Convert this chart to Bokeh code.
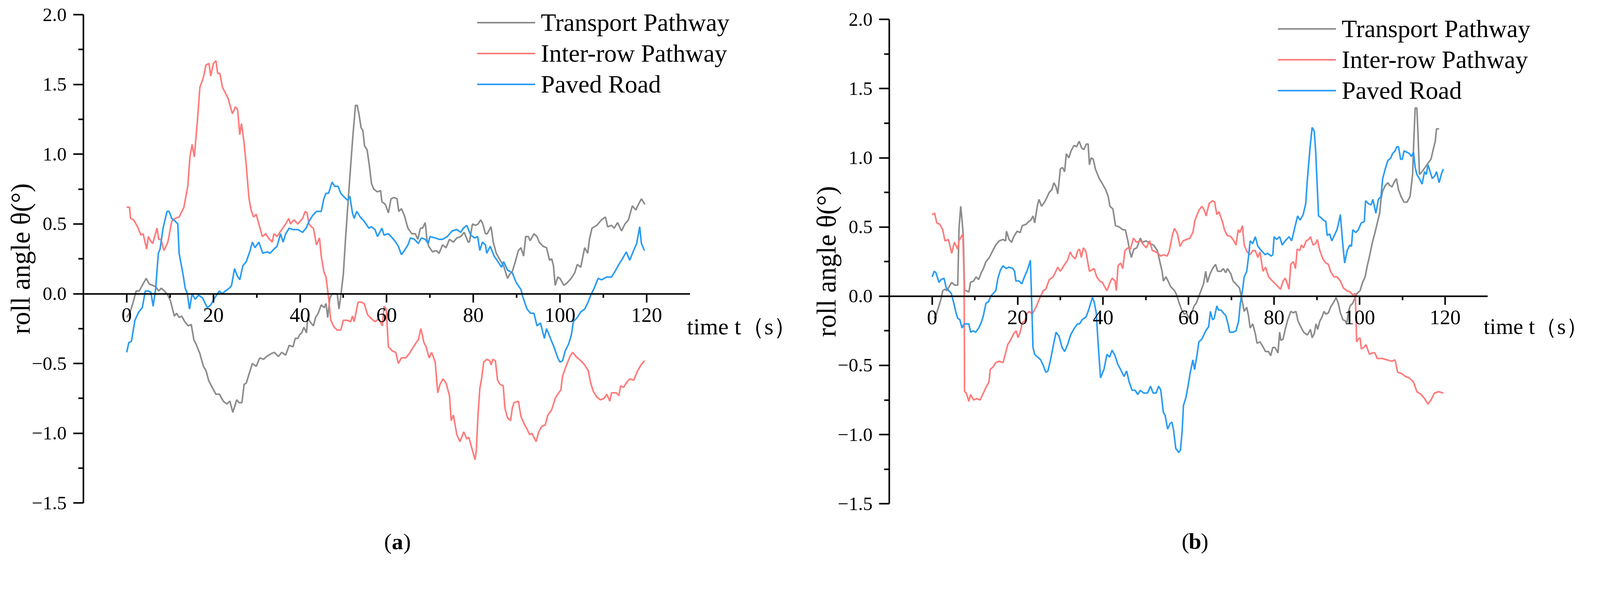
from bokeh.plotting import figure
from bokeh.layouts import row
from bokeh.models import (Range1d, FixedTicker, Legend, LegendItem, Label,
                          CustomJSTickFormatter)
from bokeh.embed import file_html
from bokeh.resources import INLINE

# ---------------- data: panel (a) ----------------
a_tp_t = [0, 0.8, 1.4, 2.2, 2.9, 3.6, 4.5, 5.2, 6.0, 6.7, 7.4, 8.0, 8.7, 9.5, 10.1, 11.0, 11.5, 12.1, 12.7, 13.4,
          14.2, 14.9, 15.5, 16.0, 16.9, 17.7, 18.3, 18.9, 19.7, 20.6, 21.4, 22.3, 23.1, 23.8, 24.5, 25.4, 25.9, 26.6,
          27.1, 27.6, 28.2, 29.0, 29.9, 30.7, 31.6, 32.3, 33.3, 34.1, 35.0, 35.8, 36.7, 37.5, 38.4, 38.9, 39.5, 40.0,
          40.4, 40.9, 41.5, 41.8, 42.3, 43.1, 43.6, 44.2, 44.9, 45.6, 46.0, 46.4, 46.9, 47.4, 48.0, 48.6, 49.0, 49.4,
          50.0, 50.5, 51.1, 51.7, 52.2, 52.8, 53.2, 53.6, 54.1, 54.5, 54.9, 55.5, 56.0, 56.5, 57.0, 57.9, 58.6, 58.9,
          59.7, 60.4, 61.0, 61.7, 62.4, 62.8, 63.4, 64.1, 64.9, 65.8, 66.6, 67.2, 67.8, 68.3, 68.9, 69.3, 69.7, 70.6,
          71.4, 72.1, 72.9, 73.7, 74.5, 75.4, 76.2, 77.1, 77.9, 78.8, 79.1, 79.8, 80.5, 81.1, 81.7, 82.2, 82.8, 83.2,
          84.1, 84.6, 85.3, 86.2, 87.0, 87.9, 88.4, 89.0, 89.6, 90.4, 91.0, 91.6, 92.1, 92.7, 93.1, 94.0, 94.7, 95.2,
          96.1, 96.9, 97.6, 98.1, 98.5, 98.9, 99.5, 100.0, 100.9, 101.7, 102.6, 103.4, 104.0, 104.8, 105.7, 106.4,
          106.8, 107.4, 108.5, 109.6, 110.5, 111.0, 111.9, 112.5, 113.3, 114.2, 115.0, 115.8, 116.7, 117.5, 118.1,
          118.8, 119.6]
a_tp_v = [-0.17, -0.13, -0.07, 0.02, 0.02, 0.06, 0.11, 0.07, 0.06, 0.05, 0.02, 0.04, 0.02, -0.01, -0.05, -0.16, -0.14,
          -0.17, -0.16, -0.20, -0.23, -0.22, -0.33, -0.36, -0.43, -0.52, -0.55, -0.62, -0.67, -0.72, -0.72, -0.77,
          -0.79, -0.77, -0.85, -0.76, -0.78, -0.78, -0.65, -0.64, -0.58, -0.50, -0.52, -0.46, -0.47, -0.45, -0.43,
          -0.42, -0.45, -0.42, -0.44, -0.37, -0.38, -0.32, -0.32, -0.29, -0.28, -0.24, -0.28, -0.17, -0.20, -0.23,
          -0.17, -0.14, -0.08, -0.10, -0.07, -0.17, -0.03, 0.0, 0.0, 0.0, -0.11, -0.02, 0.14, 0.39, 0.66, 0.92, 1.13,
          1.35, 1.35, 1.29, 1.19, 1.17, 1.06, 1.03, 0.92, 0.79, 0.75, 0.73, 0.74, 0.66, 0.64, 0.58, 0.68, 0.69, 0.68,
          0.59, 0.61, 0.56, 0.47, 0.43, 0.43, 0.39, 0.47, 0.47, 0.51, 0.39, 0.34, 0.30, 0.31, 0.29, 0.35, 0.33, 0.39,
          0.37, 0.40, 0.41, 0.44, 0.37, 0.37, 0.50, 0.49, 0.50, 0.53, 0.50, 0.43, 0.43, 0.48, 0.37, 0.29, 0.24, 0.20,
          0.11, 0.14, 0.16, 0.22, 0.31, 0.33, 0.27, 0.41, 0.41, 0.38, 0.43, 0.41, 0.37, 0.34, 0.33, 0.24, 0.25, 0.20,
          0.06, 0.12, 0.11, 0.06, 0.08, 0.11, 0.15, 0.21, 0.19, 0.33, 0.29, 0.39, 0.47, 0.49, 0.53, 0.55, 0.48, 0.49,
          0.47, 0.51, 0.45, 0.50, 0.53, 0.63, 0.60, 0.64, 0.68, 0.64]

a_ir_t = [0, 0.65, 0.9, 1.6, 2.5, 3.3, 3.8, 4.6, 5.0, 5.5, 6.0, 7.0, 7.4, 7.9, 8.6, 9.5, 10.4, 11.2, 12.1, 13.2, 14.1,
          14.6, 15.1, 15.6, 16.3, 16.9, 17.7, 18.3, 19.0, 19.4, 20.0, 20.6, 21.0, 21.5, 22.1, 23.4, 24.4, 25.1, 25.6,
          26.1, 26.5, 27.1, 27.6, 28.2, 28.7, 29.3, 29.9, 30.5, 31.3, 32.1, 32.7, 33.6, 34.0, 34.7, 35.8, 36.7, 37.4,
          37.8, 38.6, 39.5, 40.6, 41.2, 41.6, 42.1, 42.6, 43.1, 43.8, 44.5, 44.9, 45.5, 46.0, 46.6, 47.1, 47.9, 48.6,
          49.4, 50.0, 50.8, 51.7, 52.1, 52.5, 53.4, 54.1, 54.8, 55.6, 56.5, 57.3, 58.2, 59.0, 59.4, 59.9, 60.4, 61.3,
          62.1, 62.7, 63.4, 64.4, 65.2, 65.8, 66.6, 67.3, 67.9, 68.6, 69.1, 69.8, 70.4, 71.2, 71.8, 72.3, 73.0, 73.7,
          74.5, 74.9, 75.4, 76.2, 76.9, 77.8, 78.5, 79.0, 79.6, 80.4, 80.7, 81.1, 81.5, 81.9, 82.4, 83.1, 83.8, 84.1,
          84.5, 85.1, 85.6, 86.2, 86.9, 87.3, 87.9, 88.6, 89.0, 89.4, 90.4, 91.0, 91.7, 92.4, 93.0, 93.5, 94.5, 95.1,
          95.8, 96.6, 97.2, 98.1, 98.9, 99.7, 100.2, 100.6, 101.4, 102.3, 102.9, 103.7, 104.8, 105.7, 106.5, 107.1,
          107.7, 108.5, 109.3, 110.2, 110.8, 111.5, 111.9, 113.0, 113.6, 114.0, 114.7, 115.3, 116.1, 117.0, 117.8,
          118.7, 119.5]
a_ir_v = [0.62, 0.62, 0.54, 0.53, 0.48, 0.42, 0.43, 0.32, 0.41, 0.38, 0.36, 0.47, 0.39, 0.39, 0.31, 0.37, 0.52, 0.54,
          0.55, 0.62, 0.77, 0.98, 1.07, 0.98, 1.23, 1.48, 1.55, 1.64, 1.65, 1.56, 1.65, 1.67, 1.58, 1.58, 1.48, 1.40,
          1.29, 1.34, 1.32, 1.14, 1.22, 1.08, 0.92, 0.69, 0.60, 0.55, 0.57, 0.50, 0.41, 0.43, 0.40, 0.37, 0.43, 0.41,
          0.46, 0.50, 0.54, 0.50, 0.53, 0.50, 0.54, 0.59, 0.58, 0.50, 0.48, 0.47, 0.35, 0.40, 0.27, 0.16, 0.12, -0.03,
          -0.19, -0.24, -0.26, -0.26, -0.19, -0.19, -0.20, -0.16, -0.20, -0.06, -0.06, -0.07, -0.15, -0.18, -0.20,
          -0.18, -0.23, -0.09, -0.11, -0.38, -0.41, -0.42, -0.50, -0.46, -0.46, -0.43, -0.40, -0.36, -0.33, -0.25,
          -0.35, -0.38, -0.46, -0.42, -0.49, -0.71, -0.65, -0.61, -0.64, -0.73, -0.91, -0.87, -1.01, -1.06, -0.99,
          -1.04, -1.03, -1.10, -1.19, -1.12, -0.86, -0.68, -0.61, -0.49, -0.47, -0.48, -0.51, -0.47, -0.48, -0.62,
          -0.65, -0.66, -0.82, -0.89, -0.91, -0.82, -0.78, -0.77, -0.88, -0.93, -0.97, -1.01, -1.00, -1.06, -0.99,
          -0.95, -0.94, -0.87, -0.83, -0.75, -0.71, -0.69, -0.59, -0.52, -0.45, -0.42, -0.45, -0.48, -0.51, -0.55,
          -0.64, -0.70, -0.74, -0.76, -0.75, -0.72, -0.77, -0.71, -0.71, -0.73, -0.66, -0.67, -0.64, -0.61, -0.62,
          -0.56, -0.51, -0.48]

a_pr_t = [0, 0.5, 1.1, 1.9, 2.8, 3.6, 4.3, 5.0, 5.6, 6.1, 6.7, 7.3, 7.7, 8.4, 9.3, 9.8, 10.4, 11.2, 11.8, 12.1, 13.0,
          13.5, 14.0, 14.5, 15.1, 15.8, 16.6, 17.5, 18.6, 19.4, 20.3, 21.4, 22.0, 22.8, 23.7, 24.2, 24.9, 25.5, 26.1,
          26.8, 27.6, 28.5, 29.0, 29.6, 30.5, 31.4, 32.4, 33.1, 34.0, 34.7, 35.5, 36.1, 36.7, 37.5, 38.4, 39.5, 40.6,
          41.4, 42.1, 42.9, 43.8, 44.9, 45.5, 46.0, 46.6, 47.4, 48.0, 48.8, 49.4, 50.3, 51.0, 51.5, 52.1, 52.5, 53.1,
          53.9, 54.8, 55.9, 56.5, 57.3, 57.9, 58.9, 59.4, 60.4, 61.3, 62.1, 62.7, 63.4, 64.1, 64.9, 65.5, 66.4, 67.3,
          68.0, 68.9, 69.6, 70.0, 71.2, 72.1, 72.9, 74.0, 75.1, 76.2, 77.1, 77.7, 78.5, 79.4, 80.3, 81.0, 81.5, 82.1,
          82.8, 83.1, 83.9, 84.8, 85.9, 86.5, 87.0, 87.9, 89.0, 89.9, 91.0, 91.4, 92.4, 93.2, 94.0, 94.7, 95.5, 96.4,
          96.9, 97.8, 98.6, 99.5, 100.0, 100.6, 101.2, 102.0, 102.6, 103.1, 104.0, 104.8, 105.7, 106.5, 107.1, 107.9,
          108.8, 109.6, 110.8, 111.9, 112.7, 113.6, 114.4, 115.3, 116.1, 117.0, 117.7, 118.4, 118.8, 119.5]
a_pr_v = [-0.42, -0.35, -0.34, -0.19, -0.13, -0.10, 0.02, 0.02, 0.01, -0.09, 0.04, 0.29, 0.32, 0.47, 0.59, 0.59, 0.54,
          0.52, 0.50, 0.29, 0.14, 0.04, 0.0, -0.11, 0.0, -0.04, -0.01, -0.03, -0.10, -0.08, -0.03, 0.02, 0.0, 0.02,
          0.04, 0.06, 0.18, 0.13, 0.10, 0.20, 0.23, 0.31, 0.37, 0.33, 0.37, 0.29, 0.30, 0.29, 0.32, 0.34, 0.43, 0.37,
          0.43, 0.47, 0.46, 0.46, 0.44, 0.47, 0.52, 0.56, 0.59, 0.59, 0.68, 0.72, 0.72, 0.80, 0.77, 0.77, 0.72, 0.69,
          0.67, 0.70, 0.58, 0.54, 0.59, 0.55, 0.52, 0.47, 0.48, 0.46, 0.41, 0.47, 0.42, 0.43, 0.40, 0.37, 0.34, 0.28,
          0.31, 0.35, 0.40, 0.39, 0.36, 0.40, 0.39, 0.36, 0.41, 0.40, 0.39, 0.39, 0.41, 0.45, 0.46, 0.44, 0.47, 0.49,
          0.42, 0.40, 0.41, 0.31, 0.37, 0.35, 0.29, 0.34, 0.27, 0.22, 0.19, 0.23, 0.17, 0.15, 0.08, 0.03, -0.02,
          -0.11, -0.14, -0.14, -0.23, -0.21, -0.32, -0.25, -0.32, -0.38, -0.46, -0.49, -0.48, -0.41, -0.36, -0.30,
          -0.20, -0.17, -0.13, -0.11, -0.06, -0.01, 0.04, 0.11, 0.10, 0.12, 0.12, 0.16, 0.21, 0.25, 0.30, 0.24, 0.31,
          0.36, 0.48, 0.36, 0.31]

# ---------------- data: panel (b) ----------------
b_tp_t = [0.5, 1.0, 1.5, 2.0, 2.5, 3.0, 3.5, 4.0, 4.6, 5.3, 6.0, 6.3, 6.7, 7.0, 7.3, 7.6, 8.0, 8.6, 9.0, 9.7, 10.3,
          10.9, 11.5, 12.0, 12.6, 13.4, 14.2, 14.9, 15.7, 16.6, 17.2, 17.4, 18.0, 18.6, 19.1, 19.9, 20.6, 21.1, 22.0,
          22.6, 23.1, 23.6, 24.0, 24.6, 25.0, 25.6, 26.3, 26.8, 27.4, 28.0, 28.5, 29.0, 29.4, 30.0, 30.5, 31.0, 31.4,
          32.0, 32.5, 33.2, 33.8, 34.4, 35.0, 35.5, 36.1, 36.5, 36.8, 37.2, 37.7, 38.2, 39.1, 39.7, 40.6, 41.2, 41.6,
          42.3, 42.9, 43.8, 44.6, 45.2, 45.8, 46.2, 46.6, 47.2, 47.9, 48.7, 49.2, 50.1, 50.9, 51.8, 52.7, 53.2, 53.8,
          54.1, 54.7, 55.2, 55.8, 56.7, 57.2, 57.8, 58.4, 59.0, 59.5, 60.1, 60.7, 61.3, 61.8, 62.4, 62.9, 63.5, 64.0,
          64.4, 65.0, 65.6, 66.3, 66.8, 67.6, 68.1, 68.7, 69.1, 69.9, 70.4, 71.3, 71.9, 72.4, 73.0, 73.6, 74.0, 74.4,
          75.0, 75.6, 76.0, 76.7, 77.3, 78.0, 78.7, 79.2, 79.7, 80.2, 80.9, 81.3, 81.6, 82.1, 82.6, 83.2, 83.9, 84.5,
          85.1, 85.6, 86.4, 86.9, 87.8, 88.5, 88.9, 89.4, 89.8, 90.2, 90.7, 91.2, 91.7, 92.1, 92.7, 93.2, 94.0, 94.5,
          95.0, 95.5, 96.1, 96.7, 97.0, 97.4, 97.8, 98.4, 98.8, 99.4, 100.1, 100.7, 101.3, 101.8, 102.4, 103.0, 103.6,
          104.3, 104.7, 105.0, 105.4, 106.0, 106.6, 107.1, 107.6, 108.0, 108.6, 109.1, 109.7, 110.4, 111.1, 111.8,
          112.4, 112.7, 113.0, 113.4, 113.7, 114.0, 114.6, 115.3, 116.2, 116.7, 117.3, 117.7, 118.0, 118.6]
b_tp_v = [-0.16, -0.13, -0.08, -0.03, 0.04, 0.05, 0.04, 0.07, 0.10, 0.08, 0.08, 0.49, 0.65, 0.55, 0.44, 0.04, 0.04,
          0.03, 0.10, 0.11, 0.14, 0.12, 0.17, 0.20, 0.25, 0.28, 0.33, 0.37, 0.40, 0.41, 0.40, 0.47, 0.41, 0.39, 0.43,
          0.47, 0.46, 0.51, 0.52, 0.54, 0.55, 0.58, 0.53, 0.65, 0.70, 0.65, 0.68, 0.71, 0.75, 0.77, 0.82, 0.79, 0.74,
          0.92, 0.93, 0.90, 1.03, 1.00, 1.05, 1.09, 1.08, 1.12, 1.07, 1.06, 1.10, 1.10, 0.95, 1.00, 0.99, 0.92, 0.85,
          0.82, 0.77, 0.72, 0.65, 0.63, 0.51, 0.50, 0.48, 0.48, 0.40, 0.33, 0.28, 0.34, 0.35, 0.42, 0.39, 0.40, 0.38,
          0.37, 0.33, 0.26, 0.18, 0.11, 0.14, 0.11, 0.07, 0.04, 0.01, -0.05, -0.10, -0.13, -0.12, -0.16, -0.12, -0.07,
          -0.05, 0.0, 0.04, 0.09, 0.18, 0.10, 0.16, 0.20, 0.23, 0.18, 0.18, 0.20, 0.17, 0.20, 0.16, 0.11, 0.08, 0.06,
          -0.01, -0.11, -0.08, -0.14, -0.23, -0.20, -0.27, -0.34, -0.33, -0.36, -0.40, -0.40, -0.43, -0.37, -0.37,
          -0.41, -0.26, -0.32, -0.31, -0.24, -0.17, -0.11, -0.12, -0.11, -0.18, -0.23, -0.26, -0.28, -0.24, -0.30,
          -0.27, -0.20, -0.24, -0.18, -0.15, -0.11, -0.13, -0.12, -0.08, -0.04, -0.01, -0.05, -0.12, -0.17, -0.18,
          -0.20, -0.11, -0.07, -0.05, -0.02, 0.02, 0.04, 0.10, 0.14, 0.22, 0.30, 0.39, 0.46, 0.55, 0.60, 0.70, 0.76,
          0.80, 0.82, 0.80, 0.79, 0.82, 0.85, 0.77, 0.72, 0.68, 0.68, 0.72, 0.88, 1.14, 1.36, 1.36, 1.14, 0.88, 0.90,
          0.93, 0.97, 0.99, 1.07, 1.12, 1.21, 1.21]

b_ir_t = [0, 0.6, 1.1, 1.8, 2.5, 3.0, 3.8, 4.6, 5.2, 6.0, 6.3, 7.0, 7.2, 7.5, 7.6, 8.0, 8.6, 9.0, 9.7, 10.5, 11.2,
          12.0, 12.6, 13.3, 13.6, 14.3, 14.9, 15.7, 16.6, 17.2, 17.7, 18.3, 19.1, 19.7, 20.1, 20.6, 21.1, 21.7, 22.3,
          22.8, 23.4, 24.3, 25.1, 26.0, 26.6, 27.4, 28.3, 28.8, 29.4, 30.0, 30.8, 31.7, 32.3, 32.8, 33.5, 34.1, 34.5,
          34.9, 35.4, 36.0, 36.8, 37.4, 37.9, 38.5, 39.2, 39.8, 40.9, 41.5, 42.1, 42.8, 43.1, 43.5, 44.1, 44.6, 45.1,
          45.8, 46.4, 47.1, 47.8, 48.8, 49.5, 50.1, 50.9, 51.5, 52.4, 53.5, 54.2, 55.0, 55.5, 56.2, 56.7, 57.4, 58.0,
          58.7, 59.5, 60.3, 61.0, 61.5, 62.4, 63.1, 63.7, 64.1, 64.8, 65.6, 66.1, 66.6, 67.1, 67.9, 68.4, 69.0, 69.9,
          70.6, 71.1, 71.6, 72.0, 72.6, 73.0, 73.7, 74.4, 75.0, 75.6, 76.2, 76.7, 77.4, 78.0, 78.7, 79.6, 80.6, 81.5,
          82.1, 82.6, 83.1, 83.5, 83.9, 84.5, 85.0, 85.4, 86.0, 86.4, 86.9, 87.5, 88.1, 88.5, 89.1, 89.7, 90.1, 90.7,
          91.4, 92.1, 92.7, 93.2, 94.0, 94.7, 95.5, 96.2, 97.0, 97.8, 98.4, 99.0, 99.1, 99.3, 99.7, 100.1, 100.4,
          101.0, 101.5, 102.3, 103.0, 103.6, 104.1, 105.3, 106.4, 107.6, 108.3, 108.9, 109.9, 110.7, 111.6, 112.6,
          113.4, 114.4, 115.2, 116.0, 116.7, 117.5, 118.5, 119.6]
b_ir_v = [0.59, 0.60, 0.53, 0.52, 0.48, 0.40, 0.41, 0.31, 0.39, 0.34, 0.40, 0.44, 0.45, 0.09, -0.69, -0.70, -0.76,
          -0.71, -0.75, -0.74, -0.75, -0.70, -0.66, -0.62, -0.53, -0.51, -0.48, -0.47, -0.48, -0.41, -0.35, -0.32,
          -0.27, -0.25, -0.30, -0.26, -0.19, -0.18, -0.12, -0.11, -0.13, -0.08, -0.02, 0.04, 0.05, 0.12, 0.14, 0.17,
          0.21, 0.18, 0.22, 0.26, 0.32, 0.29, 0.27, 0.33, 0.34, 0.28, 0.35, 0.32, 0.18, 0.19, 0.20, 0.14, 0.11, 0.10,
          0.04, 0.09, 0.13, 0.11, 0.04, 0.22, 0.24, 0.20, 0.33, 0.35, 0.34, 0.42, 0.39, 0.40, 0.37, 0.35, 0.40, 0.33,
          0.32, 0.29, 0.30, 0.29, 0.33, 0.44, 0.49, 0.45, 0.36, 0.40, 0.41, 0.42, 0.46, 0.55, 0.62, 0.65, 0.62, 0.58,
          0.67, 0.69, 0.68, 0.59, 0.61, 0.54, 0.48, 0.44, 0.43, 0.40, 0.37, 0.48, 0.46, 0.51, 0.37, 0.32, 0.30, 0.33,
          0.33, 0.28, 0.32, 0.18, 0.21, 0.14, 0.11, 0.08, 0.05, 0.11, 0.13, 0.09, 0.05, 0.23, 0.25, 0.20, 0.34, 0.33,
          0.37, 0.35, 0.40, 0.41, 0.43, 0.37, 0.38, 0.41, 0.33, 0.27, 0.24, 0.23, 0.18, 0.14, 0.14, 0.11, 0.06, 0.04,
          0.03, 0.01, 0.02, -0.09, -0.33, -0.31, -0.30, -0.38, -0.37, -0.35, -0.42, -0.41, -0.41, -0.45, -0.45, -0.46,
          -0.47, -0.46, -0.55, -0.56, -0.58, -0.59, -0.62, -0.69, -0.71, -0.74, -0.78, -0.75, -0.70, -0.69, -0.70]

b_pr_t = [0, 0.5, 0.9, 1.6, 2.1, 2.8, 3.3, 3.9, 4.5, 5.0, 5.6, 6.0, 6.5, 7.0, 7.5, 8.0, 8.6, 9.0, 9.6, 10.2, 10.9,
          11.5, 12.0, 12.6, 13.2, 13.7, 14.3, 14.9, 15.4, 16.0, 16.6, 17.3, 18.0, 18.9, 19.3, 19.6, 20.3, 21.0, 21.6,
          22.3, 23.0, 23.3, 23.6, 24.0, 24.7, 25.4, 26.0, 26.6, 27.1, 27.7, 28.4, 29.0, 29.7, 30.4, 31.0, 31.7, 32.4,
          33.1, 34.0, 34.5, 35.1, 36.0, 36.5, 37.1, 37.5, 37.9, 38.4, 38.9, 39.4, 40.2, 40.9, 41.5, 42.1, 42.8, 43.4,
          44.1, 44.9, 45.5, 46.1, 46.8, 47.5, 48.1, 48.7, 49.5, 50.4, 51.1, 51.7, 52.4, 53.0, 53.5, 54.1, 54.5, 55.1,
          55.7, 56.1, 56.5, 57.0, 57.7, 58.1, 58.5, 58.8, 59.4, 59.8, 60.4, 61.0, 61.4, 62.0, 62.4, 63.1, 64.0, 64.7,
          65.1, 65.6, 66.0, 66.6, 67.0, 67.6, 68.1, 68.7, 69.3, 69.6, 70.4, 71.1, 71.7, 72.1, 72.6, 73.0, 73.6, 74.0,
          74.4, 75.0, 75.6, 76.2, 77.0, 77.9, 78.5, 79.3, 79.7, 80.0, 80.6, 81.3, 81.9, 82.6, 83.5, 84.1, 84.8, 85.5,
          86.1, 86.8, 87.4, 87.8, 88.4, 88.9, 89.4, 89.7, 90.1, 90.4, 90.9, 91.5, 92.1, 92.4, 93.0, 93.5, 94.1, 94.7,
          95.1, 95.5, 96.0, 96.5, 97.1, 97.7, 98.1, 98.4, 99.1, 99.7, 100.4, 101.1, 101.4, 102.0, 102.7, 103.1, 103.8,
          104.4, 105.0, 105.4, 106.0, 106.6, 107.3, 107.7, 108.3, 108.7, 109.1, 109.6, 110.0, 110.4, 111.1, 111.7,
          112.1, 112.6, 113.0, 113.4, 114.0, 114.6, 115.2, 115.6, 116.0, 116.4, 117.0, 117.6, 118.0, 118.6, 119.2,
          119.6]
b_pr_v = [0.14, 0.18, 0.17, 0.10, 0.12, 0.13, 0.06, 0.04, 0.02, -0.04, -0.12, -0.16, -0.17, -0.23, -0.20, -0.20, -0.20,
          -0.26, -0.25, -0.26, -0.23, -0.19, -0.14, -0.05, -0.04, 0.0, 0.02, 0.04, 0.13, 0.19, 0.22, 0.20, 0.21, 0.20,
          0.18, 0.11, 0.11, 0.09, 0.14, 0.19, 0.26, -0.05, -0.37, -0.42, -0.44, -0.46, -0.50, -0.55, -0.54, -0.46,
          -0.35, -0.26, -0.29, -0.37, -0.40, -0.35, -0.28, -0.24, -0.20, -0.20, -0.17, -0.15, -0.11, -0.05, -0.01,
          -0.04, -0.12, -0.37, -0.59, -0.53, -0.42, -0.44, -0.39, -0.43, -0.49, -0.53, -0.58, -0.54, -0.62, -0.68,
          -0.68, -0.71, -0.68, -0.70, -0.70, -0.65, -0.70, -0.70, -0.65, -0.68, -0.84, -0.86, -0.96, -0.92, -0.91,
          -0.97, -1.10, -1.13, -1.11, -0.97, -0.79, -0.73, -0.66, -0.55, -0.46, -0.53, -0.42, -0.33, -0.31, -0.25,
          -0.22, -0.11, -0.17, -0.16, -0.07, -0.10, -0.10, -0.12, -0.14, -0.21, -0.26, -0.26, -0.25, -0.18, -0.05,
          0.04, 0.14, 0.18, 0.28, 0.40, 0.38, 0.43, 0.36, 0.33, 0.30, 0.31, 0.29, 0.30, 0.43, 0.41, 0.43, 0.37, 0.40,
          0.43, 0.40, 0.49, 0.58, 0.55, 0.59, 0.67, 0.85, 1.07, 1.22, 1.19, 1.06, 0.79, 0.58, 0.57, 0.55, 0.54, 0.44,
          0.45, 0.40, 0.44, 0.48, 0.53, 0.59, 0.40, 0.24, 0.33, 0.37, 0.36, 0.48, 0.46, 0.48, 0.53, 0.54, 0.69, 0.67,
          0.66, 0.70, 0.60, 0.70, 0.72, 0.85, 0.92, 0.98, 1.00, 1.03, 1.05, 1.08, 1.08, 0.99, 0.99, 1.05, 1.04, 1.03,
          1.01, 1.04, 0.93, 0.88, 0.85, 0.81, 0.90, 0.88, 0.95, 0.91, 0.85, 0.87, 0.90, 0.82, 0.89, 0.92]

series_names = ["Transport Pathway", "Inter-row Pathway", "Paved Road"]
x_ticks = [0, 20, 40, 60, 80, 100, 120]
x_minor = [10, 30, 50, 70, 90, 110]
y_ticks = [-1.5, -1.0, -0.5, 0.0, 0.5, 1.0, 1.5, 2.0]
y_minor = [-1.25, -0.75, -0.25, 0.25, 0.75, 1.25, 1.75]
x_label_text = "time t（s）"
y_label_text = "roll angle θ(°)"

COLORS = ["#8c8c8c", "#ff7b7b", "#2a9cf3"]
FONT = "Liberation Serif"

# The page is photographed at a slightly larger scale than its CSS pixels;
# K converts reference-picture pixels to page (CSS) pixels.
K = 0.94
MARGIN = 8
FIG_W, FIG_H = 2041, 1443


def px(v):
    return int(round(v * K))


def make_panel(data, caption, fig_x0, ref_ax_left, ref_ax_right, ref_ax_top, ref_ax_bottom,
               ref_leg_x, ref_leg_row1, ref_pitch, cap_x, cap_y, tl_x, tl_y, tl_size):
    # convert reference pixel positions into positions inside this figure
    ax_left = ref_ax_left * K - fig_x0
    ax_right = ref_ax_right * K - fig_x0
    ax_top = ref_ax_top * K - MARGIN
    ax_bottom = ref_ax_bottom * K - MARGIN
    sx = (ax_right - ax_left) / 140.0
    sy = (ax_bottom - ax_top) / 3.5
    x0 = -10 - ax_left / sx
    x1 = 130 + (FIG_W - ax_right) / sx
    y1 = 2.0 + ax_top / sy
    y0 = -1.5 - (FIG_H - ax_bottom) / sy

    p = figure(frame_width=FIG_W, frame_height=FIG_H, min_border=0,
               x_range=Range1d(x0, x1), y_range=Range1d(y0, y1),
               output_backend="svg", toolbar_location=None,
               background_fill_color="white", border_fill_color="white")
    p.outline_line_color = None
    p.xgrid.visible = False
    p.ygrid.visible = False

    xa = p.xaxis[0]
    xa.fixed_location = 0
    xa.bounds = (-10, 130)
    xa.ticker = FixedTicker(ticks=x_ticks, minor_ticks=x_minor)
    xa.formatter = CustomJSTickFormatter(code="return tick.toFixed(0);")
    xa.axis_line_width = 4
    xa.major_tick_line_width = 4
    xa.minor_tick_line_width = 4
    xa.major_tick_out = px(23)
    xa.major_tick_in = 0
    xa.minor_tick_out = px(11)
    xa.minor_tick_in = 0
    xa.major_label_text_font = FONT
    xa.major_label_text_font_size = f"{px(56)}px"
    xa.major_label_text_color = "black"
    xa.major_label_standoff = px(16)

    ya = p.yaxis[0]
    ya.fixed_location = -10
    ya.bounds = (-1.5, 2.0)
    ya.ticker = FixedTicker(ticks=y_ticks, minor_ticks=y_minor)
    ya.formatter = CustomJSTickFormatter(code="return tick.toFixed(1).replace('-', '\u2212');")
    ya.axis_line_width = 4
    ya.major_tick_line_width = 4
    ya.minor_tick_line_width = 4
    ya.major_tick_out = px(28)
    ya.major_tick_in = 0
    ya.minor_tick_out = px(14)
    ya.minor_tick_in = 0
    ya.major_label_text_font = FONT
    ya.major_label_text_font_size = f"{px(52)}px"
    ya.major_label_text_color = "black"
    ya.major_label_standoff = px(18)
    ya.axis_label = y_label_text
    ya.axis_label_text_font = FONT
    ya.axis_label_text_font_style = "normal"
    ya.axis_label_text_font_size = f"{px(73)}px"
    ya.axis_label_text_color = "black"
    ya.axis_label_standoff = -12

    items = []
    for (t, v), name, col in zip(data, series_names, COLORS):
        r = p.line(t, v, line_color=col, line_width=4)
        items.append(LegendItem(label=name, renderers=[r]))

    font_px = px(68)
    row_h = round(font_px * 1.2)
    spacing = max(0, round(ref_pitch * K - row_h))
    leg_top = ref_leg_row1 * K - MARGIN - row_h / 2
    leg_bottom = leg_top + 3 * row_h + 2 * spacing
    leg = Legend(items=items, location=(ref_leg_x * K - fig_x0, FIG_H - leg_bottom),
                 orientation="vertical",
                 label_text_font=FONT, label_text_font_size=f"{font_px}px", label_text_color="black",
                 glyph_width=px(158), glyph_height=row_h, label_height=row_h, label_standoff=px(16),
                 spacing=spacing, padding=0, margin=0, border_line_color=None,
                 background_fill_alpha=0)
    p.add_layout(leg)

    p.add_layout(Label(x=tl_x, y=tl_y, text=x_label_text, text_font=FONT, text_font_size=f"{px(tl_size)}px",
                       text_color="black", text_align="left", text_baseline="alphabetic"))

    cs = f"{px(62)}px"
    p.add_layout(Label(x=cap_x, y=cap_y, text="(", text_font=FONT, text_font_size=cs,
                       text_align="right", text_baseline="middle", x_offset=-px(16), text_color="black"))
    p.add_layout(Label(x=cap_x, y=cap_y, text=caption, text_font=FONT, text_font_size=cs,
                       text_font_style="bold", text_align="center", text_baseline="middle",
                       text_color="black"))
    p.add_layout(Label(x=cap_x, y=cap_y, text=")", text_font=FONT, text_font_size=cs,
                       text_align="left", text_baseline="middle", x_offset=px(16), text_color="black"))
    return p


pa = make_panel([(a_tp_t, a_tp_v), (a_ir_t, a_ir_v), (a_pr_t, a_pr_v)], "a",
                MARGIN, 235, 1887, 48, 1378,
                1307, 70, 84.5, 62.5, -1.776, 129.3, -0.234, 64)
pb = make_panel([(b_tp_t, b_tp_v), (b_ir_t, b_ir_v), (b_pr_t, b_pr_v)], "b",
                MARGIN + FIG_W, 2430, 4060, 61, 1380,
                3488, 87, 84.0, 61.5, -1.77, 129.0, -0.217, 61)

layout = row(pa, pb)
open("out.html", "w").write(file_html(layout, INLINE))
